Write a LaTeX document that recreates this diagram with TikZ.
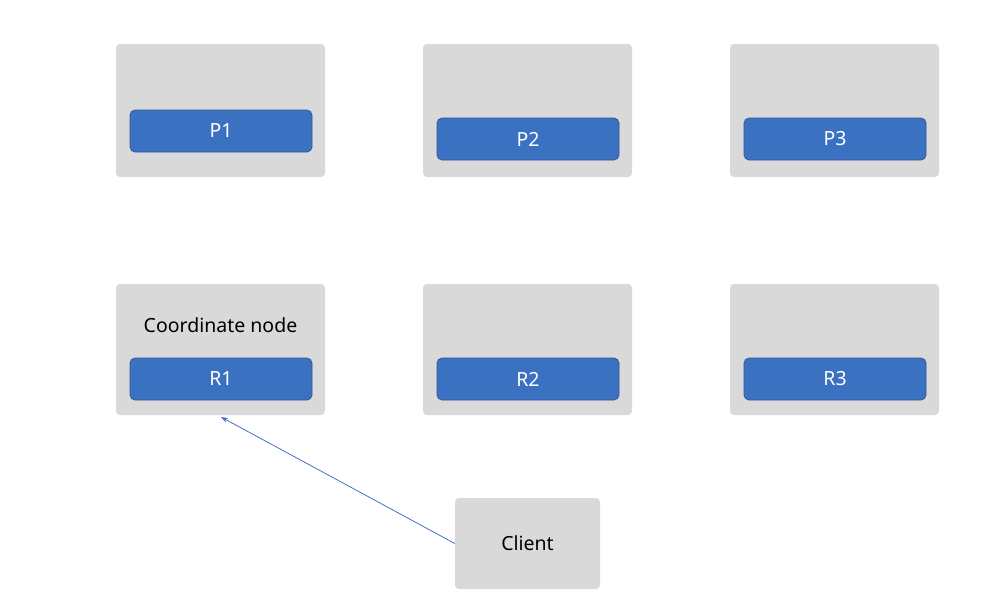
\documentclass[tikz,border=0pt]{standalone}
\usepackage{fontspec}
\setmainfont{Noto Sans}
\usetikzlibrary{arrows.meta}
\definecolor{boxgray}{HTML}{D9D9D9}
\definecolor{blufill}{HTML}{3A71C1}
\definecolor{bluedge}{HTML}{2F5597}
\definecolor{arrowc}{HTML}{4472C4}
\begin{document}
\begin{tikzpicture}[x=1pt,y=-1pt,
  graybox/.style={fill=boxgray,draw=none,rounded corners=4pt},
  bluebox/.style={fill=blufill,draw=bluedge,line width=0.7pt,rounded corners=5pt,text=white,font=\fontsize{19.5}{22}\selectfont},
  plain/.style={font=\fontsize{19.5}{22}\selectfont,text=black}]
\useasboundingbox (0,0) rectangle (987,614);
% gray containers
\fill[boxgray,rounded corners=4pt] (116,44) rectangle (325,177);
\fill[boxgray,rounded corners=4pt] (423,44) rectangle (632,177);
\fill[boxgray,rounded corners=4pt] (730,44) rectangle (939,177);
\fill[boxgray,rounded corners=4pt] (116,284) rectangle (325,415);
\fill[boxgray,rounded corners=4pt] (423,284) rectangle (632,415);
\fill[boxgray,rounded corners=4pt] (730,284) rectangle (939,415);
\node[graybox,minimum width=145pt,minimum height=91pt,plain] (client) at (527.5,543.5) {Client};
% blue boxes
\node[bluebox,minimum width=182pt,minimum height=42pt] (p1) at (221,131) {P1};
\node[bluebox,minimum width=182pt,minimum height=42pt] (p2) at (528,139) {P2};
\node[bluebox,minimum width=182pt,minimum height=42pt] (p3) at (835,139) {P3};
\node[bluebox,minimum width=182pt,minimum height=42pt] (r1) at (221,379) {R1};
\node[bluebox,minimum width=182pt,minimum height=42pt] (r2) at (528,379) {R2};
\node[bluebox,minimum width=182pt,minimum height=42pt] (r3) at (835,379) {R3};
\node[plain] (coord) at (220.5,325) {Coordinate node};
\coordinate (tip) at (221,417);
\draw[arrowc,line width=0.8pt,-{Stealth[length=7pt,width=5pt]}] (client.west) -- (tip);
\end{tikzpicture}
\end{document}
